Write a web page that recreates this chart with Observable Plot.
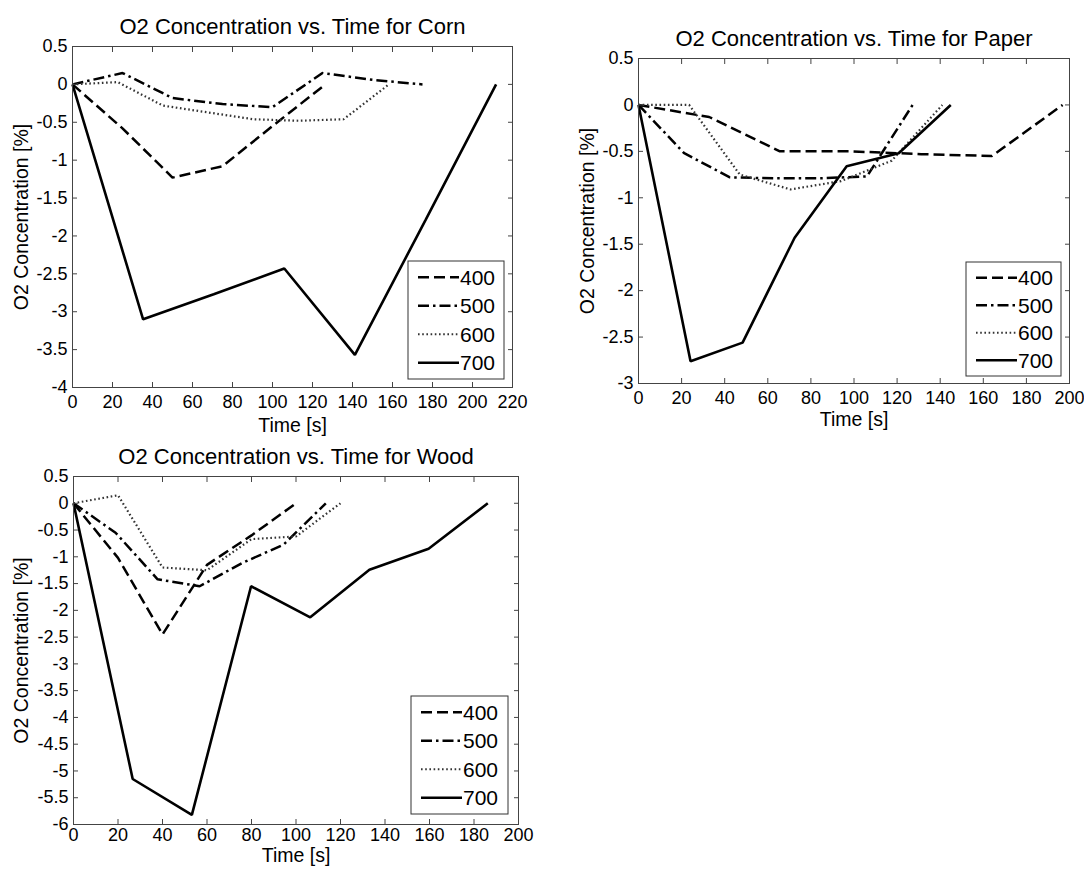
<!DOCTYPE html>
<html>
<head>
<meta charset="utf-8">
<script src="https://cdn.jsdelivr.net/npm/d3@7"></script>
<script src="https://cdn.jsdelivr.net/npm/@observablehq/plot@0.6"></script>
<style>
  html, body { margin: 0; padding: 0; background: #fff; }
  body { width: 1084px; height: 872px; position: relative; overflow: hidden;
         font-family: "Liberation Sans", Arial, sans-serif; }
  .panel { position: absolute; }
</style>
</head>
<body>
<div id="corn" class="panel"></div>
<div id="paper" class="panel"></div>
<div id="wood" class="panel"></div>
<script>
// Furnace temperatures shown in each legend
const temps = ["400", "500", "600", "700"];

// Corn: sample times [s] and O2 concentration change [%]
const cornT400 = [0, 25, 50, 75, 100, 125];
const cornO400 = [0, -0.58, -1.23, -1.08, -0.55, -0.03];
const cornT500 = [0, 25, 50, 75, 100, 125, 150, 175];
const cornO500 = [0, 0.15, -0.18, -0.26, -0.3, 0.15, 0.06, 0];
const cornT600 = [0, 22.6, 45.2, 67.8, 90.4, 113, 135.6, 158.2];
const cornO600 = [0, 0.03, -0.28, -0.37, -0.46, -0.48, -0.46, 0];
const cornT700 = [0, 35.3, 70.6, 105.9, 141.2, 176.5, 211.8];
const cornO700 = [0, -3.1, -2.77, -2.43, -3.57, -1.79, 0];

// Paper
const paperT400 = [0, 32.8, 65.6, 98.4, 131.2, 164, 196.8];
const paperO400 = [0, -0.13, -0.5, -0.5, -0.53, -0.55, 0];
const paperT500 = [0, 21.2, 42.4, 63.6, 84.8, 106, 127.2];
const paperO500 = [0, -0.52, -0.78, -0.79, -0.79, -0.77, 0];
const paperT600 = [0, 23.5, 47, 70.5, 94, 117.5, 141];
const paperO600 = [0, 0, -0.75, -0.91, -0.82, -0.6, 0];
const paperT700 = [0, 24.15, 48.3, 72.45, 96.6, 120.75, 144.9];
const paperO700 = [0, -2.76, -2.56, -1.43, -0.66, -0.52, 0];

// Wood
const woodT400 = [0, 20, 40, 60, 80, 100];
const woodO400 = [0, -1.02, -2.45, -1.15, -0.6, 0];
const woodT500 = [0, 18.9, 37.8, 56.7, 75.6, 94.5, 113.4];
const woodO500 = [0, -0.55, -1.42, -1.55, -1.12, -0.77, 0];
const woodT600 = [0, 20, 40, 60, 80, 100, 120];
const woodO600 = [0, 0.15, -1.2, -1.25, -0.67, -0.62, 0];
const woodT700 = [0, 26.6, 53.2, 79.8, 106.4, 133, 159.6, 186.2];
const woodO700 = [0, -5.15, -5.82, -1.55, -2.13, -1.24, -0.85, 0];

// Axis tick values
const cornXTicks = d3.range(0, 221, 20);
const cornYTicks = d3.range(-4, 0.51, 0.5);
const paperXTicks = d3.range(0, 201, 20);
const paperYTicks = d3.range(-3, 0.51, 0.5);
const woodXTicks = d3.range(0, 201, 20);
const woodYTicks = d3.range(-6, 0.51, 0.5);

// Line style per temperature (MATLAB "--", "-.", ":", "-")
const lineStyle = {
  "400": {dash: "11,5", stroke: "#000", width: 2.5},
  "500": {dash: "11,4,2.5,4", stroke: "#000", width: 2.5},
  "600": {dash: "1.6,2.6", stroke: "#333", width: 2.2},
  "700": {dash: null, stroke: "#000", width: 2.6}
};

const FONT = "'Liberation Sans', Arial, Helvetica, sans-serif";
const fmt = (d) => String(Math.round(d * 10) / 10);

// Legend box anchored to the lower-right corner of the frame
function legendMark({insetRight, insetBottom, boxW, rowH}) {
  return (index, scales, values, dims) => {
    const right = dims.width - dims.marginRight - insetRight;
    const bottom = dims.height - dims.marginBottom - insetBottom;
    const boxH = rowH * temps.length + 4;
    const left = right - boxW, top = bottom - boxH;
    const g = d3.create("svg:g");
    g.append("rect")
      .attr("x", left).attr("y", top).attr("width", boxW).attr("height", boxH)
      .attr("fill", "#fff").attr("stroke", "#333").attr("stroke-width", 1);
    temps.forEach((t, i) => {
      const cy = top + 2 + rowH * (i + 0.5);
      const s = lineStyle[t];
      g.append("line")
        .attr("x1", left + 10).attr("x2", left + 51)
        .attr("y1", cy).attr("y2", cy)
        .attr("stroke", s.stroke).attr("stroke-width", s.width)
        .attr("stroke-dasharray", s.dash);
      g.append("text")
        .attr("x", left + 52).attr("y", cy)
        .attr("dy", "0.36em")
        .attr("text-anchor", "start")
        .attr("font-size", 21).attr("font-family", FONT)
        .attr("fill", "#000")
        .text(t);
    });
    return g.node();
  };
}

function panel({el, pageX, pageY, width, height, margin, title, xMax, yMin, xTicks, yTicks, series, legend}) {
  const marks = [];
  for (const s of series) {
    const st = lineStyle[s.temp];
    marks.push(Plot.line(s.t.map((t, i) => [t, s.o[i]]), {
      stroke: st.stroke, strokeWidth: st.width, strokeDasharray: st.dash,
      strokeLinejoin: "miter", strokeLinecap: "butt"
    }));
  }
  marks.push(
    legendMark(legend),
    Plot.frame({stroke: "#444", strokeWidth: 1}),
    Plot.axisX({ticks: xTicks, tickSize: -5, tickPadding: margin.xTickPad, tickFormat: fmt, label: null, stroke: "#444"}),
    Plot.axisX({anchor: "top", ticks: xTicks, tickSize: -5, tickFormat: () => "", label: null, stroke: "#444"}),
    Plot.axisY({ticks: yTicks, tickSize: -5, tickPadding: 10, tickFormat: fmt, label: null, stroke: "#444"}),
    Plot.axisY({anchor: "right", ticks: yTicks, tickSize: -5, tickFormat: () => "", label: null, stroke: "#444"}),
    Plot.text([title], {frameAnchor: "top", lineAnchor: "bottom", dy: -13, fontSize: 22, fill: "#000"}),
    Plot.text(["Time [s]"], {frameAnchor: "bottom", lineAnchor: "bottom", dy: margin.xLabelDy, fontSize: 19.5, fill: "#000"}),
    Plot.text(["O2 Concentration [%]"], {frameAnchor: "left", textAnchor: "middle", lineAnchor: "middle",
      dx: margin.yLabelDx, rotate: -90, fontSize: 19.5, fill: "#000"})
  );
  const chart = Plot.plot({
    width, height,
    marginLeft: margin.left, marginRight: margin.right,
    marginTop: margin.top, marginBottom: margin.bottom,
    x: {domain: [0, xMax]},
    y: {domain: [yMin, 0.5]},
    style: {fontFamily: FONT, fontSize: "18px", color: "#000", background: "transparent", overflow: "visible"},
    marks
  });
  const host = document.getElementById(el);
  host.style.left = pageX + "px";
  host.style.top = pageY + "px";
  host.appendChild(chart);
}

const mk = (temp, t, o) => ({temp, t, o});

panel({
  el: "corn", pageX: 0, pageY: 0, width: 540, height: 432,
  margin: {left: 72, right: 28, top: 46, bottom: 45, xTickPad: 13, xLabelDy: 44, yLabelDx: -51},
  title: "O2 Concentration vs. Time for Corn",
  xMax: 220, yMin: -4, xTicks: cornXTicks, yTicks: cornYTicks,
  series: [mk("400", cornT400, cornO400), mk("500", cornT500, cornO500),
           mk("600", cornT600, cornO600), mk("700", cornT700, cornO700)],
  legend: {insetRight: 8, insetBottom: 8, boxW: 96, rowH: 28.5}
});

panel({
  el: "paper", pageX: 545, pageY: 20, width: 539, height: 400,
  margin: {left: 93, right: 15, top: 38, bottom: 37, xTickPad: 13, xLabelDy: 42, yLabelDx: -51},
  title: "O2 Concentration vs. Time for Paper",
  xMax: 200, yMin: -3, xTicks: paperXTicks, yTicks: paperYTicks,
  series: [mk("400", paperT400, paperO400), mk("500", paperT500, paperO500),
           mk("600", paperT600, paperO600), mk("700", paperT700, paperO700)],
  legend: {insetRight: 8, insetBottom: 7, boxW: 95, rowH: 27.5}
});

panel({
  el: "wood", pageX: 0, pageY: 432, width: 540, height: 440,
  margin: {left: 73, right: 22, top: 44, bottom: 48, xTickPad: 9, xLabelDy: 37, yLabelDx: -52},
  title: "O2 Concentration vs. Time for Wood",
  xMax: 200, yMin: -6, xTicks: woodXTicks, yTicks: woodYTicks,
  series: [mk("400", woodT400, woodO400), mk("500", woodT500, woodO500),
           mk("600", woodT600, woodO600), mk("700", woodT700, woodO700)],
  legend: {insetRight: 10, insetBottom: 10, boxW: 97, rowH: 28.5}
});
</script>
</body>
</html>
